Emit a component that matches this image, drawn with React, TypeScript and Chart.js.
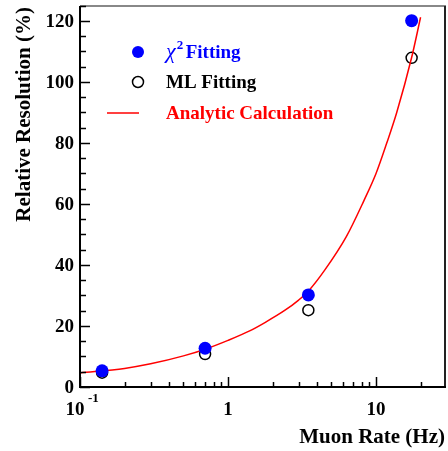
import React, { useEffect, useRef } from "react";
import { Chart, registerables } from "chart.js";

Chart.register(...registerables);

// Data points
const muonRates = [0.141, 0.70, 3.49, 17.4];
const chi2Resolution = [5.3, 12.7, 30.2, 120.1];
const mlResolution = [4.7, 10.8, 25.2, 107.9];

// Analytic calculation curve
const curveRates = [0.1, 0.2, 0.3, 0.5, 0.7, 1.0, 1.4, 1.8, 2.4, 3.0, 3.5, 4.5, 6.3, 8.3, 10, 11.8, 13.8, 17.4, 20];
const curveResolution = [4.6, 6.1, 7.6, 10.2, 12.4, 15.3, 18.4, 21.3, 25.0, 28.5, 31.5, 38.3, 49.3, 61.2, 70, 79.9, 90.0, 108, 121.2];

// Axis ticks
const yTickValues = [0, 20, 40, 60, 80, 100, 120];
const yTickLabels = ["0", "20", "40", "60", "80", "100", "120"];
const xMajorValues = [0.1, 1, 10];
const xMajorLabels = ["10", "1", "10"];
const xMinorValues = [0.2, 0.3, 0.4, 0.5, 0.6, 0.7, 0.8, 0.9, 2, 3, 4, 5, 6, 7, 8, 9, 20];

const legendLabels = ["Fitting", "ML Fitting", "Analytic Calculation"];

const SERIF = '"Liberation Serif", "Times New Roman", serif';

const drawPlugin = {
  id: "rootStyle",
  afterDraw(chart: any) {
    const ctx = chart.ctx as CanvasRenderingContext2D;
    const { left, right, top, bottom } = chart.chartArea;
    const xs = chart.scales.x;
    const ys = chart.scales.y;
    ctx.save();

    // frame
    ctx.strokeStyle = "#888";
    ctx.lineWidth = 2;
    ctx.beginPath();
    ctx.moveTo(left, top);
    ctx.lineTo(right, top);
    ctx.stroke();
    ctx.strokeStyle = "#222";
    ctx.beginPath();
    ctx.moveTo(right - 1, top);
    ctx.lineTo(right - 1, bottom);
    ctx.stroke();
    ctx.strokeStyle = "#000";
    ctx.beginPath();
    ctx.moveTo(left, top);
    ctx.lineTo(left, bottom);
    ctx.lineTo(right, bottom);
    ctx.stroke();

    // y ticks
    ctx.lineWidth = 1.5;
    for (let v = 0; v <= 125; v += 5) {
      const y = Math.round(ys.getPixelForValue(v)) + 0.5;
      const len = v % 20 === 0 ? 10 : 6;
      ctx.beginPath();
      ctx.moveTo(left, y);
      ctx.lineTo(left + len, y);
      ctx.stroke();
    }
    ctx.font = `bold 19px ${SERIF}`;
    ctx.fillStyle = "#000";
    ctx.textAlign = "right";
    ctx.textBaseline = "middle";
    yTickValues.forEach((v, i) => {
      ctx.fillText(yTickLabels[i], left - 6, ys.getPixelForValue(v) + 1);
    });

    // x ticks
    xMajorValues.forEach((v) => {
      const x = Math.round(xs.getPixelForValue(v)) + 0.5;
      ctx.beginPath();
      ctx.moveTo(x, bottom);
      ctx.lineTo(x, bottom - 10);
      ctx.stroke();
    });
    xMinorValues.forEach((v) => {
      const x = Math.round(xs.getPixelForValue(v)) + 0.5;
      ctx.beginPath();
      ctx.moveTo(x, bottom);
      ctx.lineTo(x, bottom - 5);
      ctx.stroke();
    });
    ctx.textAlign = "center";
    ctx.textBaseline = "alphabetic";
    xMajorValues.forEach((v, i) => {
      const x = xs.getPixelForValue(v);
      if (i === 0) {
        ctx.font = `bold 19px ${SERIF}`;
        ctx.fillText(xMajorLabels[i], x - 5, bottom + 28);
        ctx.font = `bold 13px ${SERIF}`;
        ctx.textAlign = "left";
        ctx.fillText("-1", x + 8, bottom + 15);
        ctx.textAlign = "center";
      } else {
        ctx.font = `bold 19px ${SERIF}`;
        ctx.fillText(xMajorLabels[i], x, bottom + 28);
      }
    });

    // axis titles
    ctx.font = `bold 21px ${SERIF}`;
    ctx.textAlign = "right";
    ctx.textBaseline = "alphabetic";
    ctx.fillText("Muon Rate (Hz)", right - 1, bottom + 56);

    ctx.save();
    ctx.translate(30, top + 1);
    ctx.rotate(-Math.PI / 2);
    ctx.textAlign = "right";
    ctx.fillText("Relative Resolution (%)", 0, 0);
    ctx.restore();

    // legend
    const lx = 138;
    const tx = 166;
    // chi2
    ctx.fillStyle = "#0000ff";
    ctx.beginPath();
    ctx.arc(lx, 52, 6, 0, Math.PI * 2);
    ctx.fill();
    ctx.textAlign = "left";
    ctx.textBaseline = "alphabetic";
    ctx.font = `italic 22px ${SERIF}`;
    ctx.fillText("\u03c7", tx, 58);
    const chiW = ctx.measureText("\u03c7").width;
    ctx.font = `bold 13px ${SERIF}`;
    ctx.fillText("2", tx + chiW + 1, 49);
    ctx.font = `bold 19px ${SERIF}`;
    ctx.fillText(legendLabels[0], tx + chiW + 10, 58);
    // ML
    ctx.strokeStyle = "#000";
    ctx.lineWidth = 1.5;
    ctx.beginPath();
    ctx.arc(lx, 82, 5.5, 0, Math.PI * 2);
    ctx.stroke();
    ctx.fillStyle = "#000";
    ctx.fillText(legendLabels[1], tx, 88);
    // analytic
    ctx.strokeStyle = "#ff0000";
    ctx.beginPath();
    ctx.moveTo(107, 113);
    ctx.lineTo(139, 113);
    ctx.stroke();
    ctx.fillStyle = "#ff0000";
    ctx.fillText(legendLabels[2], tx, 119);

    ctx.restore();
  },
};

export default function App() {
  const ref = useRef<HTMLCanvasElement>(null);
  useEffect(() => {
    const chart = new Chart(ref.current!, {
      type: "scatter",
      data: {
        datasets: [
          {
            label: "chi2 Fitting",
            data: muonRates.map((x, i) => ({ x, y: chi2Resolution[i] })),
            backgroundColor: "#0000ff",
            borderColor: "#0000ff",
            pointRadius: 6.5,
            borderWidth: 0,
            order: 1,
          },
          {
            label: "Analytic Calculation",
            data: curveRates.map((x, i) => ({ x, y: curveResolution[i] })),
            showLine: true,
            borderColor: "#ff0000",
            borderWidth: 1.5,
            pointRadius: 0,
            cubicInterpolationMode: "monotone",
            order: 2,
          },
          {
            label: "ML Fitting",
            data: muonRates.map((x, i) => ({ x, y: mlResolution[i] })),
            backgroundColor: "rgba(0,0,0,0)",
            borderColor: "#000",
            pointRadius: 5.5,
            borderWidth: 1.5,
            order: 3,
          },
        ],
      },
      options: {
        responsive: false,
        animation: false,
        layout: { autoPadding: false, padding: { left: 0, top: 6, right: 2, bottom: 0 } },
        plugins: { legend: { display: false }, tooltip: { enabled: false } },
        scales: {
          x: {
            type: "logarithmic",
            min: 0.1,
            max: 29.7,
            grid: { display: false },
            border: { display: false },
            ticks: { display: false },
            afterFit: (s: any) => {
              s.height = 64;
            },
          },
          y: {
            type: "linear",
            min: 0,
            max: 124.9,
            grid: { display: false },
            border: { display: false },
            ticks: { display: false },
            afterFit: (s: any) => {
              s.width = 80;
            },
          },
        },
      },
      plugins: [drawPlugin],
    } as any);
    return () => chart.destroy();
  }, []);
  return (
    <div style={{ position: "absolute", left: 0, top: 0, width: 448, height: 451 }}>
      <canvas ref={ref} width={448} height={451} style={{ width: 448, height: 451, display: "block" }} />
    </div>
  );
}
